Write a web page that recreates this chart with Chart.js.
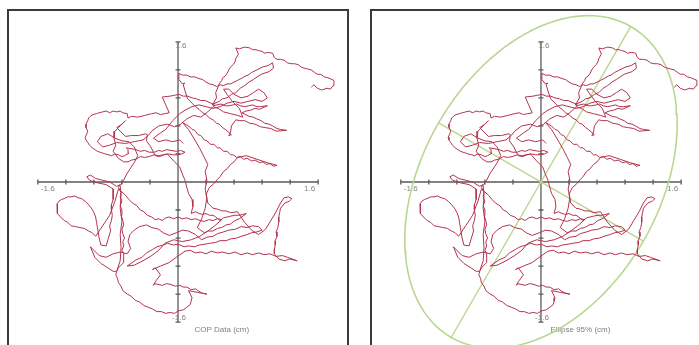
<!DOCTYPE html>
<html>
<head>
<meta charset="utf-8">
<script src="https://cdn.jsdelivr.net/npm/chart.js@4.4.0/dist/chart.umd.min.js"></script>
<style>
  html, body { margin: 0; padding: 0; background: #fff; width: 699px; height: 345px; overflow: hidden; }
  .box { position: absolute; top: 9px; height: 336px; border: 2px solid #3a3a3a; border-bottom: none; background: #fff; }
  #boxL { left: 7px; width: 338px; }
  #boxR { left: 370px; width: 327px; }
  canvas { display: block; }
</style>
</head>
<body>
<div class="box" id="boxL"><canvas id="copChart" width="338" height="336"></canvas></div>
<div class="box" id="boxR"><canvas id="ellipseChart" width="327" height="336"></canvas></div>
<script>
// centre of pressure trace, cm
const copPath = [
  [1.52,1.08],[1.55,1.11],[1.59,1.07],[1.64,1.05],[1.70,1.07],[1.74,1.06],[1.77,1.10],[1.78,1.16],
  [1.71,1.19],[1.67,1.20],[1.63,1.23],[1.59,1.23],[1.56,1.25],[1.52,1.28],[1.48,1.29],[1.44,1.30],[1.41,1.31],[1.37,1.34],[1.33,1.35],[1.29,1.35],[1.25,1.36],[1.21,1.39],[1.17,1.40],[1.13,1.40],[1.10,1.42],
  [1.08,1.47],[1.03,1.48],[0.99,1.47],[0.96,1.49],[0.92,1.50],[0.89,1.51],[0.85,1.51],[0.82,1.53],[0.76,1.54],[0.70,1.52],[0.66,1.53],
  [0.69,1.46],[0.66,1.41],[0.65,1.37],[0.63,1.34],[0.60,1.31],[0.58,1.28],[0.56,1.24],[0.54,1.21],[0.51,1.19],[0.50,1.16],[0.47,1.12],[0.46,1.09],[0.43,1.02],[0.44,0.96],[0.41,0.91],
  [0.39,0.88],[0.42,0.90],[0.40,0.87],
  [0.49,0.89],[0.54,0.87],[0.58,0.87],[0.63,0.88],[0.67,0.89],[0.71,0.87],[0.76,0.86],[0.81,0.87],[0.85,0.88],[0.90,0.86],[0.94,0.86],[1.02,0.87],
  [0.93,0.83],[0.88,0.84],[0.83,0.82],[0.78,0.81],[0.73,0.79],
  [0.81,0.75],[0.86,0.74],[0.90,0.72],[0.95,0.70],[0.99,0.67],[1.04,0.66],[1.08,0.64],[1.13,0.61],[1.17,0.60],[1.24,0.59],
  [1.12,0.58],[1.06,0.61],[1.00,0.62],[0.94,0.63],[0.88,0.66],[0.82,0.67],[0.76,0.70],[0.70,0.70],[0.66,0.71],[0.61,0.64],[0.60,0.57],[0.58,0.53],[0.61,0.54],
  [0.54,0.60],[0.51,0.62],[0.47,0.66],[0.44,0.67],[0.40,0.71],[0.36,0.73],[0.32,0.77],[0.28,0.79],[0.24,0.83],[0.20,0.86],[0.17,0.89],[0.11,0.95],[0.08,1.04],[0.06,1.11],[0.08,1.13],[0.05,1.12],
  [0.01,1.17],[0.01,1.24],[0.05,1.22],[0.10,1.22],[0.14,1.20],[0.19,1.20],[0.24,1.18],[0.28,1.17],[0.32,1.14],[0.36,1.12],[0.40,1.11],[0.44,1.09],[0.48,1.11],
  [0.52,1.10],[0.56,1.12],[0.60,1.12],[0.64,1.14],[0.68,1.16],[0.72,1.18],[0.77,1.21],[0.80,1.22],[0.84,1.25],
  [0.90,1.28],[0.96,1.31],[1.03,1.33],[1.08,1.36],[1.09,1.30],[1.04,1.26],[0.95,1.23],
  [0.86,1.17],[0.81,1.14],[0.76,1.10],[0.71,1.07],[0.66,1.02],[0.61,1.00],[0.56,0.96],[0.51,0.95],[0.47,0.92],[0.40,0.89],
  [0.31,0.93],[0.26,0.93],[0.21,0.95],[0.16,0.96],[0.11,0.98],[0.06,0.98],[0.01,1.00],[-0.04,0.99],[-0.09,0.98],[-0.18,0.97],
  [-0.14,0.88],[-0.10,0.79],[-0.15,0.78],[-0.20,0.77],[-0.25,0.79],[-0.30,0.78],[-0.38,0.76],
  [-0.46,0.74],[-0.53,0.75],[-0.57,0.73],[-0.58,0.78],[-0.63,0.79],[-0.66,0.81],[-0.70,0.80],[-0.74,0.81],[-0.78,0.79],[-0.82,0.81],[-0.86,0.80],[-0.90,0.79],
  [-0.93,0.78],[-0.97,0.77],[-1.00,0.75],[-1.02,0.73],[-1.03,0.70],[-1.05,0.66],[-1.05,0.62],[-1.03,0.58],[-1.04,0.55],[-1.06,0.51],[-1.05,0.48],[-1.03,0.45],
  [-1.01,0.42],[-0.98,0.39],[-0.95,0.37],[-0.92,0.35],[-0.89,0.34],[-0.86,0.33],[-0.83,0.32],[-0.79,0.31],[-0.76,0.30],[-0.72,0.32],[-0.68,0.31],[-0.64,0.29],[-0.61,0.30],[-0.56,0.33],
  [-0.57,0.37],[-0.59,0.39],[-0.48,0.37],[-0.43,0.35],[-0.38,0.36],[-0.33,0.34],[-0.27,0.34],[-0.22,0.36],[-0.18,0.35],[-0.13,0.37],[-0.08,0.36],[-0.02,0.35],[0.03,0.36],
  [0.08,0.34],[0.04,0.32],[-0.01,0.31],[-0.06,0.31],[-0.11,0.32],[-0.16,0.31],[-0.21,0.29],[-0.26,0.30],
  [-0.31,0.40],[-0.36,0.47],[-0.35,0.54],[-0.37,0.55],[-0.45,0.53],[-0.53,0.53],[-0.60,0.52],[-0.65,0.57],[-0.70,0.62],[-0.64,0.66],[-0.60,0.70],
  [-0.66,0.64],[-0.72,0.58],[-0.73,0.50],[-0.71,0.42],[-0.74,0.35],
  [-0.68,0.27],[-0.62,0.23],[-0.57,0.23],[-0.53,0.25],[-0.48,0.26],[-0.43,0.29],[-0.38,0.28],[-0.33,0.29],[-0.27,0.31],[-0.22,0.30],[-0.17,0.31],[-0.12,0.32],
  [-0.05,0.24],[0.02,0.17],[0.05,0.09],[0.08,0.02],[0.10,-0.06],[0.12,-0.13],[0.16,-0.20],[0.17,-0.28],[0.15,-0.36],
  [0.20,-0.34],[0.24,-0.36],[0.28,-0.37],[0.32,-0.36],[0.36,-0.38],[0.40,-0.38],[0.43,-0.40],[0.48,-0.44],[0.52,-0.41],[0.56,-0.40],[0.60,-0.39],[0.65,-0.38],[0.70,-0.38],[0.74,-0.37],[0.78,-0.36],
  [0.70,-0.42],[0.65,-0.44],[0.60,-0.48],[0.55,-0.49],[0.50,-0.52],[0.45,-0.53],[0.40,-0.56],[0.35,-0.56],[0.30,-0.58],[0.22,-0.52],
  [0.27,-0.42],[0.31,-0.30],[0.33,-0.18],[0.31,-0.08],[0.33,0.02],[0.31,0.12],[0.34,0.20],[0.30,0.28],[0.25,0.38],[0.18,0.50],[0.12,0.60],[0.05,0.68],
  [0.12,0.64],[0.16,0.60],[0.19,0.59],[0.23,0.54],[0.26,0.53],[0.30,0.48],[0.33,0.47],[0.37,0.43],[0.41,0.43],[0.45,0.39],[0.48,0.39],[0.52,0.35],[0.56,0.35],
  [0.60,0.31],[0.63,0.31],[0.67,0.28],[0.71,0.29],[0.75,0.26],[0.79,0.27],[0.84,0.24],[0.88,0.25],[0.93,0.22],[0.97,0.23],[1.01,0.20],[1.05,0.21],[1.09,0.18],[1.13,0.19],
  [1.02,0.22],[0.90,0.26],[0.78,0.30],[0.68,0.28],[0.64,0.23],[0.60,0.20],[0.56,0.15],[0.52,0.12],[0.48,0.06],[0.45,0.03],[0.40,-0.03],[0.36,-0.06],[0.32,-0.14],
  [0.34,-0.24],[0.40,-0.30],[0.45,-0.31],[0.50,-0.33],[0.55,-0.33],[0.60,-0.35],[0.68,-0.34],
  [0.76,-0.46],[0.84,-0.55],[0.92,-0.60],[1.00,-0.54],[1.06,-0.44],[1.12,-0.34],[1.17,-0.24],[1.21,-0.18],[1.26,-0.17],[1.30,-0.19],
  [1.27,-0.22],[1.22,-0.24],[1.17,-0.30],[1.16,-0.35],[1.15,-0.40],[1.15,-0.46],[1.14,-0.52],[1.12,-0.57],[1.13,-0.62],[1.11,-0.67],[1.11,-0.72],[1.10,-0.77],[1.10,-0.82],
  [1.15,-0.88],[1.22,-0.90],[1.27,-0.88],[1.32,-0.89],[1.36,-0.90],
  [1.25,-0.86],[1.19,-0.84],[1.12,-0.85],[1.05,-0.82],[0.98,-0.83],[0.92,-0.81],[0.85,-0.83],[0.79,-0.81],[0.72,-0.83],[0.65,-0.80],[0.58,-0.82],[0.51,-0.80],
  [0.45,-0.81],[0.38,-0.79],[0.32,-0.82],[0.26,-0.80],[0.20,-0.81],[0.14,-0.78],[0.08,-0.79],
  [-0.02,-0.86],[-0.10,-0.92],[-0.20,-0.96],[-0.27,-0.99],[-0.29,-1.00],[-0.26,-0.98],
  [-0.20,-1.06],[-0.26,-1.14],[-0.28,-1.18],[-0.27,-1.16],[-0.18,-1.18],[-0.13,-1.16],[-0.08,-1.17],[-0.03,-1.19],[0.02,-1.18],[0.06,-1.20],[0.10,-1.20],
  [0.15,-1.23],[0.20,-1.22],[0.24,-1.25],[0.28,-1.27],[0.33,-1.28],
  [0.22,-1.26],[0.12,-1.24],[0.16,-1.32],[0.15,-1.36],[0.14,-1.40],[0.10,-1.43],[0.06,-1.46],[0.01,-1.47],[-0.04,-1.50],[-0.09,-1.49],[-0.14,-1.50],[-0.19,-1.48],
  [-0.24,-1.48],[-0.29,-1.45],[-0.34,-1.43],[-0.39,-1.41],[-0.44,-1.37],[-0.49,-1.35],[-0.54,-1.30],[-0.58,-1.28],[-0.63,-1.24],[-0.65,-1.19],[-0.68,-1.15],
  [-0.69,-1.10],[-0.71,-1.06],[-0.70,-1.02],[-0.68,-0.98],
  [-0.62,-0.92],[-0.62,-0.86],[-0.62,-0.82],[-0.64,-0.78],[-0.62,-0.73],[-0.63,-0.68],[-0.61,-0.64],[-0.63,-0.59],[-0.64,-0.54],[-0.62,-0.49],[-0.63,-0.44],
  [-0.65,-0.38],[-0.64,-0.32],[-0.66,-0.27],[-0.64,-0.22],[-0.66,-0.17],[-0.65,-0.12],
  [-0.68,-0.06],[-0.66,-0.03],[-0.70,-0.05],
  [-0.78,0.00],[-0.86,0.02],[-0.94,0.04],[-1.00,0.08],[-1.04,0.06],[-1.01,0.02],[-0.92,-0.01],[-0.82,-0.03],[-0.74,-0.08],
  [-0.74,-0.20],[-0.76,-0.26],[-0.76,-0.32],[-0.75,-0.38],[-0.76,-0.44],[-0.78,-0.50],[-0.77,-0.56],[-0.80,-0.66],[-0.82,-0.73],[-0.88,-0.72],[-0.90,-0.64],
  [-0.92,-0.52],[-0.93,-0.46],[-0.94,-0.40],[-0.96,-0.35],[-0.98,-0.31],[-1.02,-0.26],[-1.06,-0.22],[-1.10,-0.19],[-1.14,-0.18],[-1.18,-0.16],[-1.22,-0.17],
  [-1.26,-0.17],[-1.30,-0.19],[-1.33,-0.20],[-1.36,-0.22],[-1.38,-0.25],[-1.38,-0.28],[-1.38,-0.32],[-1.37,-0.36],[-1.34,-0.40],[-1.30,-0.44],[-1.26,-0.46],
  [-1.22,-0.50],[-1.17,-0.51],[-1.12,-0.52],[-1.07,-0.53],[-1.02,-0.56],[-0.98,-0.58],[-0.94,-0.62],
  [-0.86,-0.50],[-0.78,-0.38],[-0.72,-0.22],[-0.68,-0.08],
  [-0.60,-0.15],[-0.56,-0.20],[-0.52,-0.24],[-0.47,-0.27],[-0.43,-0.32],[-0.39,-0.34],[-0.35,-0.38],[-0.30,-0.40],[-0.26,-0.43],[-0.22,-0.42],[-0.18,-0.44],
  [-0.14,-0.41],[-0.10,-0.40],[-0.05,-0.42],[0.00,-0.40],[0.05,-0.42],[0.10,-0.41],[0.15,-0.43],[0.20,-0.42],[0.25,-0.44],[0.30,-0.45],[0.35,-0.43],[0.40,-0.44],[0.45,-0.42],[0.50,-0.43],
  [0.42,-0.50],[0.34,-0.56],[0.25,-0.62],[0.15,-0.66],[0.05,-0.68],[-0.05,-0.66],[-0.15,-0.70],[-0.22,-0.78],[-0.30,-0.84],[-0.40,-0.90],[-0.50,-0.95],[-0.58,-0.96],
  [-0.48,-0.89],[-0.41,-0.86],[-0.36,-0.81],[-0.29,-0.77],[-0.24,-0.74],[-0.17,-0.72],[-0.12,-0.70],[-0.05,-0.72],[0.00,-0.71],[0.07,-0.74],[0.12,-0.73],[0.19,-0.74],
  [0.24,-0.72],[0.31,-0.71],[0.36,-0.70],[0.43,-0.69],[0.48,-0.67],[0.55,-0.67],[0.60,-0.65],[0.67,-0.64],[0.72,-0.62],[0.79,-0.60],[0.84,-0.58],[0.90,-0.57],[0.96,-0.55],
  [0.92,-0.51],[0.85,-0.50],[0.79,-0.52],[0.72,-0.51],[0.65,-0.54],[0.58,-0.55],[0.52,-0.57],[0.45,-0.59],[0.40,-0.62],[0.33,-0.63],[0.27,-0.66],
  [0.20,-0.60],[0.12,-0.56],[0.05,-0.55],[-0.02,-0.58],[-0.10,-0.61],[-0.17,-0.58],[-0.22,-0.54],[-0.30,-0.52],[-0.36,-0.49],[-0.44,-0.51],[-0.50,-0.55],
  [-0.55,-0.60],[-0.57,-0.68],[-0.54,-0.76],[-0.58,-0.82],
  [-0.66,-0.80],[-0.74,-0.82],[-0.82,-0.86],[-0.90,-0.84],[-0.96,-0.78],[-1.00,-0.74],[-0.95,-0.86],[-0.88,-0.93],[-0.80,-0.98],[-0.74,-1.02],[-0.70,-1.02],
  [-0.66,-0.90],[-0.65,-0.75],[-0.66,-0.60],[-0.64,-0.45],[-0.66,-0.30],[-0.65,-0.15],[-0.66,-0.04],[-0.62,0.02],[-0.58,0.10],[-0.54,0.16],[-0.50,0.22],
  [-0.46,0.30],[-0.50,0.40],[-0.56,0.46],[-0.64,0.47],[-0.72,0.50],[-0.80,0.55],[-0.88,0.52],[-0.92,0.46],[-0.86,0.40],[-0.78,0.42],
  [-0.70,0.45],[-0.60,0.44],[-0.50,0.46],[-0.40,0.48],[-0.34,0.53],[-0.30,0.58],[-0.22,0.64],[-0.12,0.66],[-0.04,0.63],[0.03,0.66],[0.10,0.72],[0.18,0.76],
  [0.26,0.74],[0.34,0.80],[0.40,0.86],[0.46,0.84],[0.52,0.80],[0.60,0.78],[0.68,0.76],[0.74,0.74],
  [0.70,0.84],[0.62,0.92],[0.56,1.00],[0.52,1.06],[0.58,1.06],[0.64,1.00],[0.72,0.96],[0.80,0.98],[0.86,1.02],
  [0.92,1.06],[0.98,1.02],[1.02,0.96],[0.96,0.92],[0.88,0.94],[0.80,0.92],[0.72,0.90],[0.64,0.92],[0.56,0.90],[0.48,0.86],[0.40,0.84],[0.32,0.86],[0.24,0.88],
  [0.16,0.86],[0.08,0.82],[0.02,0.78],[-0.06,0.70],[-0.14,0.60],[-0.20,0.56],[-0.28,0.50],[-0.22,0.46],[-0.14,0.48],[-0.06,0.46],[0.02,0.48],[0.06,0.44]
];

const axisTicks = [-1.6, -1.28, -0.96, -0.64, -0.32, 0, 0.32, 0.64, 0.96, 1.28, 1.6];
const axisLabels = ['-1.6', '1.6'];
const captions = ['COP Data (cm)', 'Ellipse 95% (cm)'];

// 95% confidence ellipse: semi-axes (cm) and tilt of the major axis (deg)
const ellipseAxes = [2.05, 1.35];
const ellipseAngle = 60;

const traceColor = '#b3324c';
const ellipseColor = '#b9d78f';

const copPoints = copPath.map(p => ({ x: p[0], y: p[1] }));

const rad = ellipseAngle * Math.PI / 180;
const ellipsePoints = [];
for (let i = 0; i <= 120; i++) {
  const t = i / 120 * 2 * Math.PI;
  const u = ellipseAxes[0] * Math.cos(t), v = ellipseAxes[1] * Math.sin(t);
  ellipsePoints.push({ x: u * Math.cos(rad) - v * Math.sin(rad), y: u * Math.sin(rad) + v * Math.cos(rad) });
}
const majorAxis = [
  { x: -ellipseAxes[0] * Math.cos(rad), y: -ellipseAxes[0] * Math.sin(rad) },
  { x: ellipseAxes[0] * Math.cos(rad), y: ellipseAxes[0] * Math.sin(rad) }
];
const minorAxis = [
  { x: ellipseAxes[1] * Math.sin(rad), y: -ellipseAxes[1] * Math.cos(rad) },
  { x: -ellipseAxes[1] * Math.sin(rad), y: ellipseAxes[1] * Math.cos(rad) }
];

// cross shaped axes through the origin, with end labels
const crossAxes = {
  id: 'crossAxes',
  beforeDatasetsDraw(chart, args, opts) {
    const { ctx } = chart;
    const x = chart.scales.x, y = chart.scales.y;
    const x0 = x.getPixelForValue(0), y0 = y.getPixelForValue(0);
    const xl = x.getPixelForValue(-1.6), xr = x.getPixelForValue(1.6);
    const yt = y.getPixelForValue(1.6), yb = y.getPixelForValue(-1.6);
    ctx.save();
    ctx.strokeStyle = '#5a5a5a';
    ctx.lineWidth = 1.3;
    ctx.beginPath();
    ctx.moveTo(xl, y0); ctx.lineTo(xr, y0);
    ctx.moveTo(x0, yt); ctx.lineTo(x0, yb);
    axisTicks.forEach(v => {
      const px = x.getPixelForValue(v), py = y.getPixelForValue(v);
      ctx.moveTo(px, y0 - 2.5); ctx.lineTo(px, y0 + 2.5);
      ctx.moveTo(x0 - 2.5, py); ctx.lineTo(x0 + 2.5, py);
    });
    ctx.stroke();

    ctx.fillStyle = '#808080';
    ctx.font = '8px "Liberation Sans", Arial, sans-serif';
    ctx.textBaseline = 'top';
    ctx.textAlign = 'left';
    ctx.fillText(axisLabels[0], xl + 3, y0 + 3);
    ctx.textAlign = 'right';
    ctx.fillText(axisLabels[1], xr - 3, y0 + 3);
    ctx.textAlign = 'center';
    ctx.textBaseline = 'middle';
    ctx.fillText(axisLabels[1], x0 + 3, yt + 4);
    ctx.fillText(axisLabels[0], x0 + 1, yb - 4);
    ctx.fillText(opts.caption, x.getPixelForValue(opts.captionAt[0]), y.getPixelForValue(opts.captionAt[1]));
    ctx.restore();
  }
};

const makeChart = (id, datasets, xRange, caption, captionAt) => new Chart(document.getElementById(id), {
  type: 'scatter',
  data: { datasets: datasets },
  options: {
    responsive: false,
    animation: false,
    devicePixelRatio: 1,
    layout: { padding: 0 },
    elements: { point: { radius: 0, hoverRadius: 0 } },
    plugins: {
      legend: { display: false },
      tooltip: { enabled: false },
      crossAxes: { caption: caption, captionAt: captionAt }
    },
    scales: {
      x: { type: 'linear', display: false, min: xRange[0], max: xRange[1] },
      y: { type: 'linear', display: false, min: -1.884, max: 1.952 }
    }
  },
  plugins: [crossAxes]
});

const traceSet = () => ({ data: copPoints, showLine: true, borderColor: traceColor, borderWidth: 1, tension: 0 });

makeChart('copChart', [traceSet()], [-1.929, 1.929], captions[0], [0.5, -1.69]);

makeChart('ellipseChart', [
  traceSet(),
  { data: ellipsePoints, showLine: true, borderColor: ellipseColor, borderWidth: 1.6, tension: 0 },
  { data: majorAxis, showLine: true, borderColor: ellipseColor, borderWidth: 1.4 },
  { data: minorAxis, showLine: true, borderColor: ellipseColor, borderWidth: 1.4 }
], [-1.929, 1.804], captions[1], [0.45, -1.69]);
</script>
</body>
</html>
